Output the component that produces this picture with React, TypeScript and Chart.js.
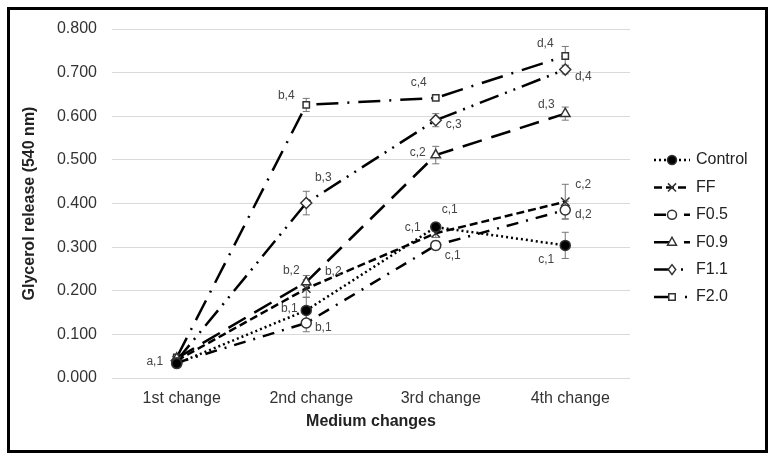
import React, { useEffect, useRef } from 'react';
import { Chart, registerables } from 'chart.js';

Chart.register(...registerables);

// ---------- data ----------
const categories = ['1st change', '2nd change', '3rd change', '4th change'];
const yTicks = [0, 0.1, 0.2, 0.3, 0.4, 0.5, 0.6, 0.7, 0.8];

const seriesNames = ['Control', 'FF', 'F0.5', 'F0.9', 'F1.1', 'F2.0'];

const controlValues = [0.033, 0.155, 0.346, 0.304];
const ffValues = [0.040, 0.205, 0.332, 0.404];
const f05Values = [0.035, 0.126, 0.304, 0.385];
const f09Values = [0.045, 0.220, 0.511, 0.606];
const f11Values = [0.040, 0.401, 0.591, 0.707];
const f20Values = [0.047, 0.626, 0.642, 0.738];

const controlErrors = [0.005, 0.030, 0.010, 0.030];
const ffErrors = [0.005, 0.020, 0.010, 0.040];
const f05Errors = [0.005, 0.020, 0.010, 0.020];
const f09Errors = [0.005, 0.015, 0.020, 0.015];
const f11Errors = [0.005, 0.027, 0.015, 0.010];
const f20Errors = [0.005, 0.015, 0.005, 0.022];

const controlLabels = ['a,1', 'b,1', 'c,1', 'c,1'];
const ffLabels = ['', 'b,2', 'c,1', 'c,2'];
const f05Labels = ['', 'b,1', 'c,1', 'd,2'];
const f09Labels = ['', 'b,2', 'c,2', 'd,3'];
const f11Labels = ['', 'b,3', 'c,3', 'd,4'];
const f20Labels = ['', 'b,4', 'c,4', 'd,4'];

// ---------- styling (positions / sizes / styles) ----------
const labelOffsets = [
  [[-22, -2], [-17, -2], [14, -17], [-19, 14]],
  [[0, 0], [27, -17], [-23, -5], [18, -17]],
  [[0, 0], [17, 5], [17, 10], [18, 5]],
  [[0, 0], [-15, -11], [-18, -2], [-19, -9]],
  [[0, 0], [17, -25], [18, 5], [18, 7]],
  [[0, 0], [-20, -9], [-17, -15], [-20, -12]],
];

const dashes = [
  [2, 3],
  [8, 4],
  [12, 8, 2, 8],
  [20, 10],
  [20, 7, 2, 7, 2, 7],
  [22, 9, 2, 9],
];
const pointStyles = ['circle', 'crossRot', 'circle', 'triangle', 'rectRot', 'rect'];
const pointFills = ['#000', '#fff', '#fff', '#fff', '#fff', '#fff'];
const pointRadii = [5, 6, 5, 5.5, 5.5, 4.5];

const FONT = '"Liberation Sans", Arial, sans-serif';

function drawMarker(ctx: CanvasRenderingContext2D, style: string, x: number, y: number, r: number, fill: string) {
  ctx.save();
  ctx.setLineDash([]);
  ctx.lineWidth = 1.5;
  ctx.strokeStyle = '#333';
  ctx.fillStyle = fill;
  ctx.beginPath();
  if (style === 'circle') {
    ctx.arc(x, y, r, 0, Math.PI * 2);
    ctx.fill();
    ctx.stroke();
  } else if (style === 'crossRot') {
    const d = r * 0.75;
    ctx.moveTo(x - d, y - d);
    ctx.lineTo(x + d, y + d);
    ctx.moveTo(x + d, y - d);
    ctx.lineTo(x - d, y + d);
    ctx.stroke();
  } else if (style === 'triangle') {
    ctx.moveTo(x, y - r);
    ctx.lineTo(x + r * 0.9, y + r * 0.6);
    ctx.lineTo(x - r * 0.9, y + r * 0.6);
    ctx.closePath();
    ctx.fill();
    ctx.stroke();
  } else if (style === 'rectRot') {
    ctx.moveTo(x, y - r);
    ctx.lineTo(x + r * 0.75, y);
    ctx.lineTo(x, y + r);
    ctx.lineTo(x - r * 0.75, y);
    ctx.closePath();
    ctx.fill();
    ctx.stroke();
  } else {
    ctx.rect(x - r * 0.8, y - r * 0.8, r * 1.6, r * 1.6);
    ctx.fill();
    ctx.stroke();
  }
  ctx.restore();
}

export default function App() {
  const ref = useRef<HTMLCanvasElement | null>(null);

  useEffect(() => {
    if (!ref.current) return;
    const values = [controlValues, ffValues, f05Values, f09Values, f11Values, f20Values];
    const errors = [controlErrors, ffErrors, f05Errors, f09Errors, f11Errors, f20Errors];
    const labels = [controlLabels, ffLabels, f05Labels, f09Labels, f11Labels, f20Labels];

    const decor = {
      id: 'decor',
      beforeDatasetsDraw(chart: any) {
        const ctx = chart.ctx;
        const ys = chart.scales.y;
        ctx.save();
        ctx.strokeStyle = '#777';
        ctx.lineWidth = 1;
        values.forEach((vals, i) => {
          const meta = chart.getDatasetMeta(i);
          vals.forEach((v, j) => {
            const x = meta.data[j].x;
            const t = ys.getPixelForValue(v + errors[i][j]);
            const b = ys.getPixelForValue(v - errors[i][j]);
            ctx.beginPath();
            ctx.moveTo(x, t);
            ctx.lineTo(x, b);
            ctx.moveTo(x - 3.5, t);
            ctx.lineTo(x + 3.5, t);
            ctx.moveTo(x - 3.5, b);
            ctx.lineTo(x + 3.5, b);
            ctx.stroke();
          });
        });
        ctx.restore();
      },
      afterDatasetsDraw(chart: any) {
        const ctx = chart.ctx;
        ctx.save();
        ctx.font = '12px ' + FONT;
        ctx.fillStyle = '#444';
        ctx.textAlign = 'center';
        ctx.textBaseline = 'middle';
        labels.forEach((labs, i) => {
          const meta = chart.getDatasetMeta(i);
          labs.forEach((l, j) => {
            if (!l) return;
            const p = meta.data[j];
            ctx.fillText(l, p.x + labelOffsets[i][j][0], p.y + labelOffsets[i][j][1]);
          });
        });
        ctx.restore();
      },
      afterDraw(chart: any) {
        const ctx = chart.ctx;
        ctx.save();
        // legend
        seriesNames.forEach((name, i) => {
          const y = 160 + i * 27.4;
          ctx.save();
          ctx.strokeStyle = '#000';
          ctx.lineWidth = 2.5;
          ctx.setLineDash(dashes[i]);
          ctx.beginPath();
          ctx.moveTo(654, y);
          ctx.lineTo(690, y);
          ctx.stroke();
          ctx.restore();
          drawMarker(ctx, pointStyles[i], 672, y, pointRadii[i] * 0.9, pointFills[i]);
          ctx.font = '16px ' + FONT;
          ctx.fillStyle = '#222';
          ctx.textAlign = 'left';
          ctx.textBaseline = 'middle';
          ctx.fillText(name, 696, y);
        });
        // frame
        ctx.setLineDash([]);
        ctx.strokeStyle = '#000';
        ctx.lineWidth = 3;
        ctx.strokeRect(8.5, 8.5, 758, 443);
        ctx.restore();
      },
    };

    const chart = new Chart(ref.current, {
      type: 'line',
      data: {
        labels: categories,
        datasets: seriesNames.map((name, i) => ({
          label: name,
          data: values[i],
          borderColor: '#000',
          borderWidth: 2.5,
          borderDash: dashes[i],
          borderCapStyle: 'butt',
          tension: 0,
          fill: false,
          pointStyle: pointStyles[i] as any,
          pointRadius: pointRadii[i],
          pointBackgroundColor: pointFills[i],
          pointBorderColor: '#333',
          pointBorderWidth: 1.5,
        })),
      },
      options: {
        animation: false,
        responsive: false,
        devicePixelRatio: 1,
        layout: { padding: { top: 29, right: 144, bottom: 0, left: 0 } },
        plugins: { legend: { display: false }, tooltip: { enabled: false } },
        scales: {
          x: {
            offset: true,
            grid: { display: false, drawTicks: false },
            border: { display: false },
            ticks: {
              padding: 11,
              labelOffset: 5,
              color: '#333',
              font: { family: FONT, size: 16 },
              maxRotation: 0,
            },
            title: {
              display: true,
              text: 'Medium changes',
              color: '#222',
              font: { family: FONT, size: 16, weight: 'bold' },
              padding: { top: 0, bottom: 30 },
            },
            afterFit(scale: any) {
              scale.height = 83;
            },
          },
          y: {
            min: 0,
            max: 0.8,
            afterBuildTicks(scale: any) {
              scale.ticks = yTicks.map((v) => ({ value: v }));
            },
            grid: { color: '#d9d9d9', lineWidth: 1, drawTicks: false },
            border: { display: false },
            ticks: {
              padding: 15,
              color: '#333',
              font: { family: FONT, size: 16 },
              callback: (v: any) => Number(v).toFixed(3),
            },
            title: {
              display: true,
              text: 'Glycerol release (540 nm)',
              color: '#222',
              font: { family: FONT, size: 16, weight: 'bold' },
              padding: { top: 20, bottom: 0 },
            },
            afterFit(scale: any) {
              scale.width = 112;
            },
          },
        },
      },
      plugins: [decor],
    } as any);

    return () => chart.destroy();
  }, []);

  return (
    <div style={{ position: 'fixed', left: 0, top: 0, width: 774, height: 461, background: '#fff' }}>
      <canvas ref={ref} width={774} height={461} style={{ display: 'block' }} />
    </div>
  );
}
